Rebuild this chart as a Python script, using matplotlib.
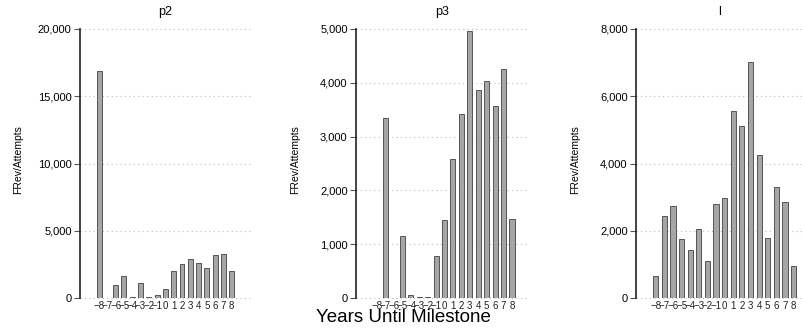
import numpy as np
import matplotlib.pyplot as plt
from matplotlib.ticker import FuncFormatter

years = list(range(-8, 9))
year_labels = ['\u2212%d' % abs(y) if y < 0 else str(y) for y in years]

p2 = [16900, 20, 980, 1650, 80, 1110, 60, 250, 640, 1980, 2520, 2890, 2600, 2220, 3210, 3290, 1980]
p3 = [8, 3345, 5, 1150, 60, 15, 15, 786, 1454, 2580, 3416, 4963, 3868, 4028, 3564, 4257, 1467]
l = [640, 2436, 2723, 1752, 1416, 2050, 1099, 2792, 2970, 5554, 5109, 7020, 4248, 1792, 3297, 2861, 960]

panels = [
    ('p2', p2, [0, 5000, 10000, 15000, 20000], (80, 170), (-10.3, 10.2), 18),
    ('p3', p3, [0, 1000, 2000, 3000, 4000, 5000], (356, 172), (-10.5, 9.9), 295),
    ('l', l, [0, 2000, 4000, 6000, 8000], (636, 167), (-10.3, 9.1), 575),
]

W, H = 803, 334
fig = plt.figure(figsize=(W / 100, H / 100), dpi=100)
top, bottom = 29, 298

for title, vals, yt, (x0, w), xl, ylab_x in panels:
    ax = fig.add_axes([x0 / W, (H - bottom) / H, w / W, (bottom - top) / H])
    ax.bar(years, vals, width=0.6, color='#a6a6a6', edgecolor='#555555', linewidth=0.7, zorder=3)
    ax.set_xlim(*xl)
    ax.set_ylim(0, yt[-1])
    ax.set_yticks(yt)
    ax.yaxis.set_major_formatter(FuncFormatter(lambda v, p: '{:,.0f}'.format(v)))
    ax.set_xticks(years)
    ax.set_xticklabels(year_labels, fontsize=7, family='Liberation Sans', color='#222222')
    ax.tick_params(axis='x', length=0, pad=2)
    ax.tick_params(axis='y', length=4, width=0.8, color='#555555', labelsize=8, pad=2)
    for t in ax.get_yticklabels():
        t.set_family('Liberation Sans')
    for v in yt:
        ax.axhline(v, color='#bbbbbb', linestyle=(0, (1, 3)), linewidth=0.8, zorder=1, clip_on=False)
    for s in ['top', 'right', 'bottom']:
        ax.spines[s].set_visible(False)
    ax.spines['left'].set_color('#222222')
    ax.spines['left'].set_linewidth(1.2)
    ax.set_title(title, fontsize=9, family='Liberation Sans', pad=10)
    fig.text(ylab_x / W, 1 - 160 / H, 'FRev/Attempts', rotation=90, ha='center', va='center',
             fontsize=7.5, family='Liberation Sans')

fig.text(403 / W, 1 - 318 / H, 'Years Until Milestone', ha='center', va='center',
         fontsize=13.5, family='Liberation Sans')

fig.savefig('out.png', dpi=100)
